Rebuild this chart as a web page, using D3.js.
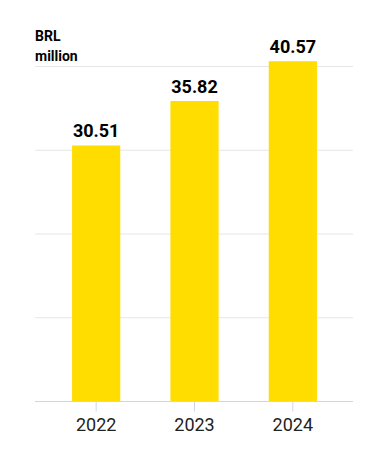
<!DOCTYPE html>
<html>
<head>
<meta charset="utf-8">
<script src="https://cdn.jsdelivr.net/npm/d3@7"></script>
<style>
  body { margin: 0; background: #fff; }
  svg { font-family: Roboto, "Noto Sans", sans-serif; display: block; }
</style>
</head>
<body>
<svg id="chart" width="377" height="453"></svg>
<script>
const years = ["2022", "2023", "2024"];
const values = [30.51, 35.82, 40.57];
const yTicks = [0, 10, 20, 30, 40];
const unitLines = ["BRL", "million"];

const svg = d3.select("#chart");
const plot = {left: 35, right: 353, top: 66, bottom: 401};

const x = d3.scaleBand()
  .domain(years)
  .range([47, 342])
  .paddingInner(0.51)
  .paddingOuter(0.255);

const y = d3.scaleLinear()
  .domain([0, 40])
  .range([plot.bottom, plot.top]);

// gridlines
svg.append("g")
  .selectAll("line")
  .data(yTicks.filter(d => d > 0))
  .enter().append("line")
  .attr("x1", plot.left)
  .attr("x2", plot.right)
  .attr("y1", d => y(d) + 0.5)
  .attr("y2", d => y(d) + 0.5)
  .attr("stroke", "#e6e6e6")
  .attr("stroke-width", 1);

// bars
svg.append("g")
  .selectAll("rect")
  .data(values)
  .enter().append("rect")
  .attr("x", (d, i) => x(years[i]))
  .attr("y", d => y(d))
  .attr("width", x.bandwidth())
  .attr("height", d => y(0) - y(d))
  .attr("fill", "#ffdd00");

// value labels
svg.append("g")
  .selectAll("text")
  .data(values)
  .enter().append("text")
  .attr("x", (d, i) => x(years[i]) + x.bandwidth() / 2)
  .attr("y", d => y(d) - 8)
  .attr("text-anchor", "middle")
  .attr("font-size", 18)
  .attr("font-weight", "bold")
  .attr("fill", "#000")
  .text(d => d.toFixed(2));

// x axis
const xAxis = svg.append("g")
  .attr("transform", `translate(0,${plot.bottom + 0.5})`)
  .call(d3.axisBottom(x).tickSize(10).tickPadding(7));
xAxis.select(".domain")
  .attr("d", `M${plot.left},0H${plot.right}`)
  .attr("stroke", "#ccd6eb");
xAxis.selectAll(".tick line").attr("stroke", "#ccd6eb");
xAxis.selectAll(".tick text")
  .attr("font-size", 18)
  .attr("font-family", "Roboto, sans-serif")
  .attr("fill", "#222");

// unit label
svg.append("text")
  .attr("x", plot.left)
  .attr("y", 41)
  .attr("font-size", 14)
  .attr("font-weight", "bold")
  .attr("fill", "#000")
  .selectAll("tspan")
  .data(unitLines)
  .enter().append("tspan")
  .attr("x", plot.left)
  .attr("dy", (d, i) => i === 0 ? 0 : 20)
  .text(d => d);
</script>
</body>
</html>
